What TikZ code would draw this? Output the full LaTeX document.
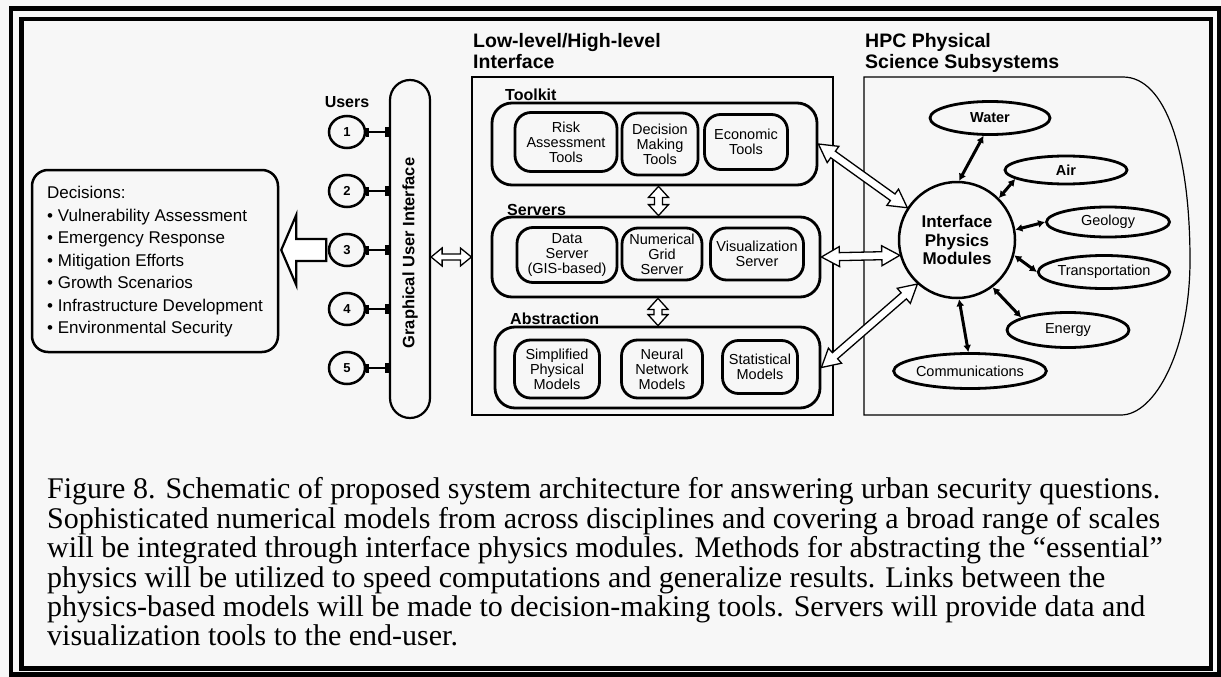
\documentclass[tikz,border=0pt]{standalone}
\usepackage{fontspec}
\setmainfont{Liberation Sans}
\newfontfamily\capfont{Liberation Serif}
\usetikzlibrary{arrows.meta,calc,shapes.geometric}

\tikzset{
  heading/.style={font=\bfseries\fontsize{19.5}{21}\selectfont, align=left, anchor=north west, inner sep=0pt},
  tag/.style={font=\bfseries\fontsize{16}{18}\selectfont, anchor=base west, inner sep=0pt},
  group/.style={draw, line width=2.8pt, rounded corners=20pt},
  unit/.style={draw, line width=2.8pt, rounded corners=16pt, align=center, inner sep=0pt, font=\fontsize{14.5}{15}\selectfont},
  sub/.style={draw, ellipse, line width=2.8pt, inner sep=0pt, font=\fontsize{14.5}{15}\selectfont},
  user/.style={draw, ellipse, line width=2.5pt, minimum width=36pt, minimum height=32pt, inner sep=0pt, font=\bfseries\fontsize{13}{13}\selectfont},
  tee/.style={line width=2.8pt, {Bar[width=9pt,line width=3pt]}-{Bar[width=10pt,line width=4pt]}},
  link/.style={line width=3pt, {Latex[length=7pt,width=8pt]}-{Latex[length=7pt,width=8pt]}},
  hollow/.style n args={3}{line width=1.3pt, fill=white, line join=miter, to path={
      (\tikztostart)
      -- ($(\tikztostart)!#1!(\tikztotarget)!#2!90:(\tikztotarget)$)
      -- ($(\tikztostart)!#1!(\tikztotarget)!#3!90:(\tikztotarget)$)
      -- ($(\tikztotarget)!#1!(\tikztostart)!#3!-90:(\tikztostart)$)
      -- ($(\tikztotarget)!#1!(\tikztostart)!#2!-90:(\tikztostart)$)
      -- (\tikztotarget)
      -- ($(\tikztotarget)!#1!(\tikztostart)!#2!90:(\tikztostart)$)
      -- ($(\tikztotarget)!#1!(\tikztostart)!#3!90:(\tikztostart)$)
      -- ($(\tikztostart)!#1!(\tikztotarget)!#3!-90:(\tikztotarget)$)
      -- ($(\tikztostart)!#1!(\tikztotarget)!#2!-90:(\tikztotarget)$)
      -- cycle}},
}

\begin{document}
\begin{tikzpicture}[x=1pt, y=-1pt]
  % page and double frame
  \useasboundingbox (0,0) rectangle (1221,677);
  \fill[white!97!black] (0,0) rectangle (1221,677);
  \draw[line width=4.5pt] (11,8.5) rectangle (1219,674.5);
  \draw[line width=4.5pt] (21.5,19) rectangle (1211,668.5);

  % decisions
  \node[draw, line width=2.5pt, rounded corners=16pt, minimum width=246pt, minimum height=182pt] (dec) at (155,261) {};
  \node[anchor=north west, inner sep=0pt, align=left, font=\fontsize{17}{22.5}\selectfont] (declist) at (47,186)
    {Decisions:\\\textbullet\ Vulnerability Assessment\\\textbullet\ Emergency Response\\\textbullet\ Mitigation Efforts\\
     \textbullet\ Growth Scenarios\\\textbullet\ Infrastructure Development\\\textbullet\ Environmental Security};

  % users and GUI
  \node[draw, line width=2.2pt, rounded corners=20pt, minimum width=40pt, minimum height=338pt] (gui) at (410,249) {};
  \node[rotate=90, font=\bfseries\fontsize{16.5}{18}\selectfont] at ([yshift=-4pt]gui.center) {Graphical User Interface};
  \node[tag, anchor=base] at (347,107) {Users};
  \foreach \i in {1,...,5} {
    \node[user] (u\i) at (347,{132+59*(\i-1)}) {\i};
    \draw[tee] (u\i.east) -- (u\i.east -| gui.west);
  }
  \coordinate (tip) at (dec.east |- u3.center);
  \draw[line width=2.2pt, fill=white, line join=miter] ([xshift=2pt]tip) -- ++(15,-35) -- ++(0,24) -- ++(30,0)
    -- ++(0,22) -- ++(-30,0) -- ++(0,24) -- cycle;

  % interface block
  \node[heading] at (473,33) {Low-level/High-level\\Interface};
  \node[draw, line width=1.2pt, minimum width=361pt, minimum height=338pt] (iface) at (652.5,246) {};
  \node[group, minimum width=325pt, minimum height=82pt] (toolkit) at (654.5,144) {};
  \node[group, minimum width=328pt, minimum height=80pt] (servers) at (656,257) {};
  \node[group, minimum width=325pt, minimum height=81pt] (abstr) at (657.5,367.5) {};
  \node[tag] at (505,100) {Toolkit};
  \node[tag] at (507,215) {Servers};
  \node[tag] at (510,324) {Abstraction};

  \node[unit, minimum width=102pt, minimum height=59pt] (risk) at (566,142) {Risk\\Assessment\\Tools};
  \node[unit, minimum width=76pt, minimum height=62pt] (decide) at (660,144) {Decision\\Making\\Tools};
  \node[unit, minimum width=83pt, minimum height=55pt] (econ) at (746,142) {Economic\\Tools};
  \node[unit, minimum width=100pt, minimum height=55pt] (data) at (567,255) {Data\\Server\\(GIS-based)};
  \node[unit, minimum width=80pt, minimum height=52pt] (grid) at (662,254) {Numerical\\Grid\\Server};
  \node[unit, minimum width=93pt, minimum height=52pt] (vis) at (757,254) {Visualization\\Server};
  \node[unit, minimum width=85pt, minimum height=58pt] (simp) at (557,369) {Simplified\\Physical\\Models};
  \node[unit, minimum width=81pt, minimum height=58pt] (neural) at (662,369) {Neural\\Network\\Models};
  \node[unit, minimum width=75pt, minimum height=53pt] (stat) at (760,367) {Statistical\\Models};

  \coordinate (t1) at ([xshift=4pt]toolkit.south);
  \coordinate (t2) at (t1 |- servers.north);
  \draw[hollow={11pt}{10pt}{4pt}] (t1) to (t2);
  \coordinate (s1) at ([xshift=2pt]servers.south);
  \coordinate (s2) at (s1 |- abstr.north);
  \draw[hollow={11pt}{10pt}{4pt}] (s1) to (s2);
  \coordinate (g1) at ([yshift=-8pt]gui.east);
  \coordinate (g2) at (g1 -| iface.west);
  \draw[hollow={11pt}{9pt}{3pt}] (g1) to (g2);

  % physical subsystems
  \node[heading] at (865,33) {HPC Physical\\Science Subsystems};
  \draw[line width=1.2pt] (864,77) -- (1123,77) .. controls (1165,77) and (1190,150) .. (1190,260)
    .. controls (1190,350) and (1155,415) .. (1121,415) -- (864,415) -- cycle;
  \node[draw, circle, line width=2.5pt, minimum size=116pt, inner sep=0pt, align=center,
        font=\bfseries\fontsize{17}{18.5}\selectfont] (ipm) at (957,240) {Interface\\Physics\\Modules};
  \node[sub, minimum width=120pt, minimum height=33pt] (water) at (990,118) {\textbf{Water}};
  \node[sub, minimum width=122pt, minimum height=28pt] (air) at (1066,170) {\textbf{Air}};
  \node[sub, minimum width=123pt, minimum height=30pt] (geo) at (1108,222) {Geology};
  \node[sub, minimum width=118pt, minimum height=33pt] (trans) at (1104,272) {Transportation};
  \node[sub, minimum width=122pt, minimum height=35pt] (energy) at (1068,330) {Energy};
  \node[sub, minimum width=124pt, minimum height=35pt] (comm) at (970,371) {Communications};

  \draw[link] (ipm.88) -- (water.250);
  \draw[link] (ipm.45) -- (air.190);
  \draw[link] (ipm.10) -- (geo.west);
  \draw[link] (ipm.-15) -- (trans.west);
  \draw[link] (ipm.-53) -- (energy.165);
  \draw[link] (ipm.-88) -- (comm.95);

  \draw[hollow={18pt}{10pt}{4pt}] (toolkit.east) to (ipm.147);
  \draw[hollow={18pt}{10pt}{4pt}] (servers.east) to (ipm.195);
  \draw[hollow={18pt}{10pt}{4pt}] (abstr.east) to (ipm.228);

  % caption
  \node[anchor=north west, inner sep=0pt, align=left, font=\capfont\fontsize{30}{29.4}\selectfont] (caption) at (47,477.5)
    {Figure 8.  Schematic of proposed system architecture for answering urban security questions.\\
     Sophisticated numerical models from across disciplines and covering a broad range of scales\\
     will be integrated through interface physics modules.  Methods for abstracting the “essential”\\
     physics will be utilized to speed computations and generalize results.  Links between the\\
     physics-based models will be made to decision-making tools.  Servers will provide data and\\
     visualization tools to the end-user.};
\end{tikzpicture}
\end{document}
